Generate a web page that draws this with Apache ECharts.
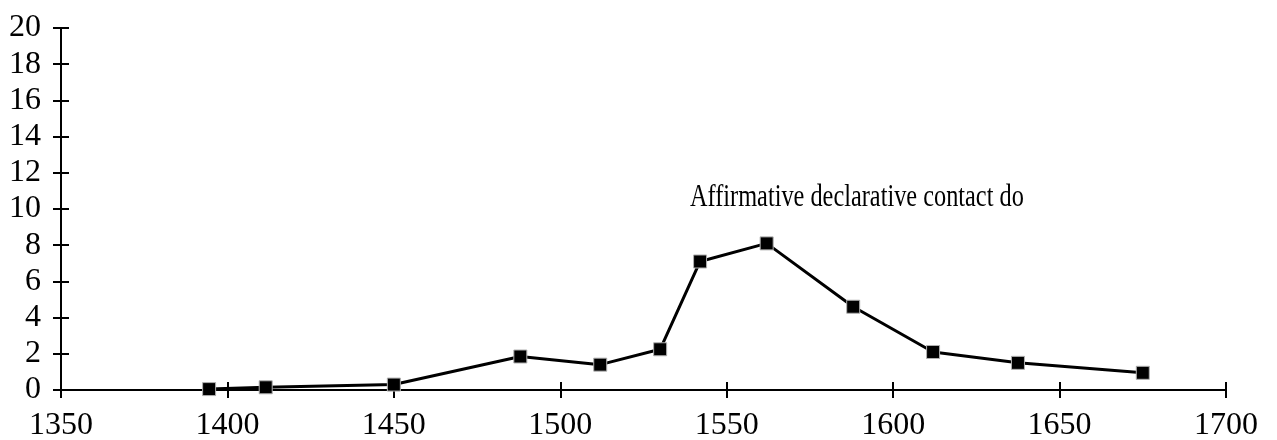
<!DOCTYPE html>
<html>
<head>
<meta charset="utf-8">
<script src="https://cdn.jsdelivr.net/npm/echarts@6/dist/echarts.min.js"></script>
<style>
  html, body { margin: 0; padding: 0; background: #fff; }
  #chart { width: 1277px; height: 440px; }
</style>
</head>
<body>
<div id="chart"></div>
<script>
// Frequency of affirmative declarative "do" by year
const years  = [1394.5, 1411.5, 1450, 1488, 1512, 1530, 1542, 1562, 1588, 1612, 1637.5, 1675];
const values = [0.05, 0.15, 0.3, 1.85, 1.4, 2.25, 7.1, 8.1, 4.6, 2.1, 1.5, 0.95];
const seriesName = 'Affirmative declarative contact do';

const xMin = 1350, xMax = 1700, xStep = 50;
const yMin = 0, yMax = 20, yStep = 2;

const serif = '"Liberation Serif", "DejaVu Serif", serif';
const axisLabelStyle = { color: '#000', fontFamily: serif, fontSize: 32 };
const lineStyle = { color: '#000', width: 2 };

const chart = echarts.init(document.getElementById('chart'), null, { renderer: 'canvas' });

// Two copies of each axis: one draws the outer tick half and labels,
// the other draws the inner tick half, so ticks cross the axis line.
chart.setOption({
  animation: false,
  backgroundColor: '#fff',
  grid: { left: 61, right: 51, top: 28, bottom: 50, containLabel: false, outerBoundsMode: 'none' },
  xAxis: [
    {
      type: 'value', min: xMin, max: xMax, interval: xStep,
      axisLine: { show: true, onZero: false, lineStyle },
      axisTick: { show: true, length: 8, lineStyle },
      axisLabel: Object.assign({ margin: 20, formatter: v => String(v) }, axisLabelStyle),
      splitLine: { show: false }
    },
    {
      type: 'value', min: xMin, max: xMax, interval: xStep, position: 'bottom',
      axisLine: { show: false },
      axisTick: { show: true, inside: true, length: 8, lineStyle },
      axisLabel: { show: false },
      splitLine: { show: false }
    }
  ],
  yAxis: [
    {
      type: 'value', min: yMin, max: yMax, interval: yStep,
      axisLine: { show: true, onZero: false, lineStyle },
      axisTick: { show: true, length: 8, lineStyle },
      axisLabel: Object.assign({ margin: 20, padding: [0, 0, 6, 0] }, axisLabelStyle),
      splitLine: { show: false }
    },
    {
      type: 'value', min: yMin, max: yMax, interval: yStep, position: 'left',
      axisLine: { show: false },
      axisTick: { show: true, inside: true, length: 8, lineStyle },
      axisLabel: { show: false },
      splitLine: { show: false }
    }
  ],
  series: [
    {
      name: seriesName,
      type: 'line',
      data: years.map((y, i) => [y, values[i]]),
      symbol: 'rect',
      symbolSize: 13,
      lineStyle: { color: '#000', width: 3 },
      itemStyle: { color: '#000', borderColor: '#b0b0b0', borderWidth: 1 },
      z: 3
    }
  ],
  graphic: [
    {
      type: 'text',
      x: 690, y: 198,
      scaleX: 0.76,
      style: {
        text: seriesName,
        font: '32px ' + serif,
        fill: '#000',
        verticalAlign: 'middle'
      }
    }
  ]
});
</script>
</body>
</html>
